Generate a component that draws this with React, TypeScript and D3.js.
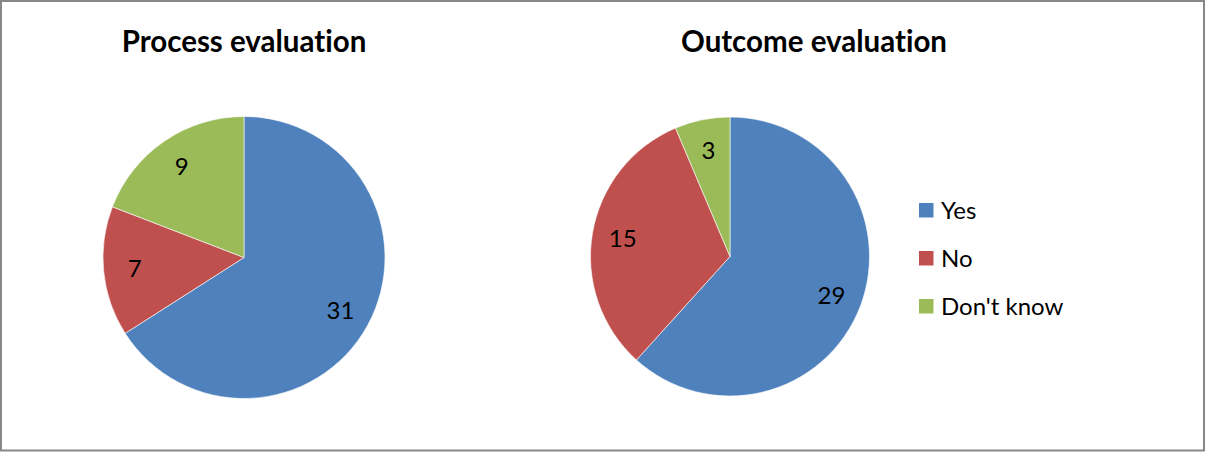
import React from "react";
import * as d3 from "d3";

const categories = ["Yes", "No", "Don't know"];
const colors = ["#4F81BD", "#C0504D", "#9BBB59"];
const processValues = [31, 7, 9];
const outcomeValues = [29, 15, 3];
const titles = ["Process evaluation", "Outcome evaluation"];

const W = 1206;
const H = 452;
const FONT = "Lato, 'Open Sans', sans-serif";
const noLig = { fontVariantLigatures: "none", fontFeatureSettings: '"liga" 0, "dlig" 0' } as React.CSSProperties;

type PieProps = { values: number[]; cx: number; cy: number; r: number };

function Pie({ values, cx, cy, r }: PieProps) {
  const pie = d3.pie<number>().sort(null).value((d) => d).startAngle(0).endAngle(2 * Math.PI);
  const arcs = pie(values);
  const arc = d3.arc<d3.PieArcDatum<number>>().innerRadius(0).outerRadius(r);
  const labelArc = d3.arc<d3.PieArcDatum<number>>().innerRadius(r * 0.78).outerRadius(r * 0.78);
  return (
    <g transform={`translate(${cx},${cy})`}>
      {arcs.map((a, i) => (
        <path key={i} d={arc(a) || ""} fill={colors[i]} stroke="#ffffff" strokeWidth={0.6} />
      ))}
      {arcs.map((a, i) => {
        const [x, y] = labelArc.centroid(a);
        return (
          <text key={"l" + i} x={x} y={y} dy="0.36em" textAnchor="middle" fontFamily={FONT} fontSize={24} fill="#000">
            {a.data}
          </text>
        );
      })}
    </g>
  );
}

export default function App() {
  return (
    <div style={{ position: "absolute", left: 0, top: 0 }}>
      <svg width={W} height={H} style={{ display: "block" }}>
        <rect x={0} y={0} width={W} height={H} fill="#ffffff" />
        <rect x={1} y={1} width={W - 3} height={H - 2.5} fill="none" stroke="#878787" strokeWidth={2} />
        <text x={244} y={52} textAnchor="middle" fontFamily={FONT} fontWeight="bold" fontSize={29.5} fill="#000" style={noLig}>
          {titles[0]}
        </text>
        <text x={814} y={52} textAnchor="middle" fontFamily={FONT} fontWeight="bold" fontSize={29.5} fill="#000" style={noLig}>
          {titles[1]}
        </text>
        <Pie values={processValues} cx={244} cy={257.5} r={141} />
        <Pie values={outcomeValues} cx={730} cy={256.5} r={139.5} />
        {categories.map((c, i) => (
          <g key={c} transform={`translate(919,${203 + i * 48})`}>
            <rect x={0} y={0} width={14.5} height={14.5} fill={colors[i]} />
            <text x={22} y={7.5} dy="0.36em" fontFamily={FONT} fontSize={24} fill="#000">
              {c}
            </text>
          </g>
        ))}
      </svg>
    </div>
  );
}
